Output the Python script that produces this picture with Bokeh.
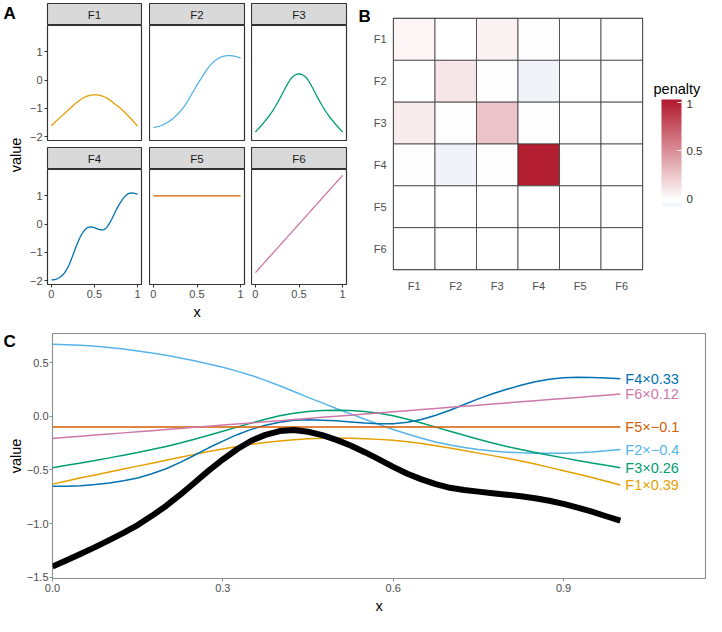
import math
from bokeh.plotting import figure
from bokeh.layouts import row, column
from bokeh.models import (ColumnDataSource, Label, FixedTicker, Range1d, ColorBar,
                          LinearColorMapper, FactorRange, CustomJSTickFormatter)
from bokeh.embed import file_html
from bokeh.resources import INLINE
from bokeh.core.properties import value

FONT = "Liberation Sans"

# ---------------- data ----------------
x = [0.0, 0.025, 0.05, 0.075, 0.1, 0.125, 0.15, 0.175, 0.2, 0.225, 0.25, 0.275, 0.3, 0.325,
     0.35, 0.375, 0.4, 0.425, 0.45, 0.475, 0.5, 0.525, 0.55, 0.575, 0.6, 0.625, 0.65, 0.675,
     0.7, 0.725, 0.75, 0.775, 0.8, 0.825, 0.85, 0.875, 0.9, 0.925, 0.95, 0.975, 1.0]
F1 = [-1.62, -1.545, -1.47, -1.40, -1.33, -1.26, -1.19, -1.12, -1.05, -0.98, -0.91, -0.843,
      -0.78, -0.722, -0.67, -0.627, -0.59, -0.562, -0.54, -0.528, -0.525, -0.527, -0.535,
      -0.552, -0.575, -0.61, -0.65, -0.703, -0.76, -0.82, -0.88, -0.94, -1.00, -1.068, -1.14,
      -1.22, -1.30, -1.38, -1.46, -1.55, -1.64]
F2 = [-1.675, -1.665, -1.65, -1.627, -1.60, -1.562, -1.52, -1.472, -1.42, -1.357, -1.29,
      -1.217, -1.14, -1.05, -0.95, -0.835, -0.71, -0.577, -0.44, -0.31, -0.18, -0.055, 0.07,
      0.19, 0.31, 0.415, 0.51, 0.597, 0.67, 0.728, 0.775, 0.81, 0.835, 0.852, 0.862, 0.863,
      0.86, 0.847, 0.83, 0.805, 0.775]
F3 = [-1.84, -1.757, -1.67, -1.582, -1.49, -1.397, -1.30, -1.193, -1.08, -0.955, -0.82,
      -0.683, -0.54, -0.39, -0.24, -0.105, 0.02, 0.11, 0.17, 0.205, 0.215, 0.205, 0.17, 0.11,
      0.02, -0.105, -0.24, -0.39, -0.54, -0.683, -0.82, -0.955, -1.08, -1.193, -1.30, -1.397,
      -1.49, -1.582, -1.67, -1.757, -1.84]
F4 = [-1.976, -1.972, -1.958, -1.928, -1.885, -1.82, -1.739, -1.62, -1.48, -1.30, -1.10,
      -0.89, -0.70, -0.52, -0.37, -0.255, -0.17, -0.115, -0.10, -0.11, -0.13, -0.16, -0.19,
      -0.21, -0.21, -0.17, -0.09, 0.03, 0.17, 0.33, 0.49, 0.635, 0.76, 0.875, 0.97, 1.04,
      1.085, 1.10, 1.095, 1.08, 1.06]
F5 = [1.0, 1.0, 1.0, 1.0, 1.0, 1.0, 1.0, 1.0, 1.0, 1.0, 1.0, 1.0, 1.0, 1.0, 1.0, 1.0, 1.0,
      1.0, 1.0, 1.0, 1.0, 1.0, 1.0, 1.0, 1.0, 1.0, 1.0, 1.0, 1.0, 1.0, 1.0, 1.0, 1.0, 1.0,
      1.0, 1.0, 1.0, 1.0, 1.0, 1.0, 1.0]
F6 = [-1.72, -1.634, -1.548, -1.462, -1.376, -1.29, -1.204, -1.118, -1.032, -0.946, -0.86,
      -0.774, -0.688, -0.602, -0.516, -0.43, -0.344, -0.258, -0.172, -0.086, 0.0, 0.086,
      0.172, 0.258, 0.344, 0.43, 0.516, 0.602, 0.688, 0.774, 0.86, 0.946, 1.032, 1.118,
      1.204, 1.29, 1.376, 1.462, 1.548, 1.634, 1.72]

names = ["F1", "F2", "F3", "F4", "F5", "F6"]
series = [F1, F2, F3, F4, F5, F6]
colors = ["#E69F00", "#56B4E9", "#009E73", "#0072B2", "#D55E00", "#CC79A7"]
coefs = [0.39, -0.4, 0.26, 0.33, -0.1, 0.12]
coef_labels = ["0.39", "\u22120.4", "0.26", "0.33", "\u22120.1", "0.12"]

pen_rows = ["F1", "F2", "F3", "F4", "F5", "F6"]
pen_cols = ["F1", "F2", "F3", "F4", "F5", "F6"]
penalty = [
    [0.04, 0.00, 0.06, 0.01, 0.00, 0.00],
    [0.00, 0.11, 0.01, -0.07, 0.00, 0.00],
    [0.09, 0.01, 0.27, 0.01, 0.00, 0.00],
    [0.01, -0.07, 0.01, 1.00, 0.00, 0.00],
    [0.00, 0.00, 0.00, 0.00, 0.00, 0.00],
    [0.00, 0.00, 0.00, 0.00, 0.00, 0.00],
]
pen_low, pen_high = -0.073, 1.026

xtick_A = [0, 0.5, 1]
ytick_A = [-2, -1, 0, 1]
xtick_C = [0.0, 0.3, 0.6, 0.9]
ytick_C = [-1.5, -1.0, -0.5, 0.0, 0.5]
cb_ticks = [0, 0.5, 1]

# ---------------- helpers ----------------
fmt_plain = CustomJSTickFormatter(code="return String(tick).replace('-', '\u2212');")
fmt_one = CustomJSTickFormatter(code="return tick.toFixed(1).replace('-', '\u2212');")


def style_axes(p, tick_color="#333333"):
    for ax in p.axis:
        ax.axis_line_color = None
        ax.major_tick_line_color = tick_color
        ax.major_tick_out = 3
        ax.major_tick_in = 0
        ax.minor_tick_line_color = None
        ax.major_label_text_font = FONT
        ax.major_label_text_font_size = "11px"
        ax.major_label_text_color = "#4D4D4D"
        ax.major_label_standoff = 2
        ax.axis_label_text_font = FONT
        ax.axis_label_text_font_size = "14.5px"
        ax.axis_label_text_font_style = "normal"
        ax.axis_label_text_color = "black"
        ax.axis_label_standoff = 3
    p.grid.visible = False


def gutter(w, h):
    g = figure(width=w, height=h, x_range=Range1d(0, w), y_range=Range1d(0, h),
               x_axis_location=None, y_axis_location=None, toolbar_location=None,
               output_backend="svg", min_border=0, outline_line_color=None)
    g.grid.visible = False
    return g


def tag(g, text, gx, gy):
    g.add_layout(Label(x=gx, y=gy, text=text, text_baseline="top", text_align="left",
                       text_font=FONT, text_font_size="17px", text_font_style="bold",
                       text_color="black"))


def vlabel(g, text, gx, gy):
    g.add_layout(Label(x=gx, y=gy, text=text, angle=math.pi / 2, text_baseline="middle",
                       text_align="center", text_font=FONT, text_font_size="14.5px",
                       text_color="black"))


# ---------------- panel A ----------------
GUT_W = 26
FRAME_W = 95
TOP_PAD = 3
STRIP_H = 22
FRAME_H = 115
GAP = 7
XAX_H = 42
col_specs = [(20, 8), (0, 7), (0, 6)]
A_H = TOP_PAD + STRIP_H + FRAME_H + GAP + STRIP_H + FRAME_H + XAX_H


def strip(name, lb, rb, pad):
    s = figure(width=lb + FRAME_W + rb, height=STRIP_H + pad, x_range=Range1d(0, 1),
               y_range=Range1d(0, 1), x_axis_location=None, y_axis_location=None,
               toolbar_location=None, output_backend="svg", min_border=0,
               min_border_left=lb, min_border_right=rb, min_border_top=pad, min_border_bottom=0,
               background_fill_color="#D9D9D9", border_fill_color="white",
               outline_line_color="#333333", outline_line_width=1.1)
    s.grid.visible = False
    s.add_layout(Label(x=0.5, y=0.5, text=name, text_align="center", text_baseline="middle",
                       text_font=FONT, text_font_size="11.5px", text_color="#1A1A1A"))
    return s


def facet(i, lb, rb, bottom_row, show_y, xlabel):
    h = FRAME_H + (XAX_H if bottom_row else GAP)
    p = figure(width=lb + FRAME_W + rb, height=h,
               x_range=Range1d(-0.045, 1.045), y_range=Range1d(-2.14, 1.93),
               x_axis_location="below" if bottom_row else None,
               y_axis_location="left" if show_y else None,
               toolbar_location=None, output_backend="svg",
               min_border=0, min_border_left=lb, min_border_right=rb, min_border_top=0,
               min_border_bottom=XAX_H if bottom_row else GAP,
               outline_line_color="#333333", outline_line_width=1.2)
    p.line(x, series[i], color=colors[i], line_width=1.3)
    if bottom_row:
        p.xaxis.ticker = FixedTicker(ticks=xtick_A, minor_ticks=[])
        p.xaxis.formatter = fmt_plain
        if xlabel:
            p.xaxis.axis_label = xlabel
    if show_y:
        p.yaxis.ticker = FixedTicker(ticks=ytick_A, minor_ticks=[])
        p.yaxis.formatter = fmt_plain
    style_axes(p)
    return p


gA = gutter(GUT_W, A_H)
tag(gA, "A", 3, A_H - 3)
frames_mid = TOP_PAD + STRIP_H + (FRAME_H + GAP + STRIP_H + FRAME_H) / 2.0
vlabel(gA, "value", 15.5, A_H - frames_mid)

a_cols = []
for j in range(3):
    lb, rb = col_specs[j]
    a_cols.append(column(
        strip(names[j], lb, rb, TOP_PAD),
        facet(j, lb, rb, False, j == 0, None),
        strip(names[j + 3], lb, rb, 0),
        facet(j + 3, lb, rb, True, j == 0, "x" if j == 1 else None),
        spacing=0))

A_W = GUT_W + sum(l + FRAME_W + r for l, r in col_specs)

# ---------------- panel B ----------------
def hex2rgb(h):
    h = h.lstrip("#")
    return tuple(int(h[k:k + 2], 16) for k in (0, 2, 4))


def mix(c1, c2, t):
    a, b = hex2rgb(c1), hex2rgb(c2)
    return "#%02x%02x%02x" % tuple(int(round(a[k] + (b[k] - a[k]) * t)) for k in range(3))


NPAL = 256
palette = []
for k in range(NPAL):
    v = pen_low + (pen_high - pen_low) * (k + 0.5) / NPAL
    if v >= 0:
        palette.append(mix("#FFFFFF", "#B2182B", min(v / pen_high, 1)))
    else:
        palette.append(mix("#FFFFFF", "#2166AC", min(-v / pen_high, 1)))
mapper = LinearColorMapper(palette=palette, low=pen_low, high=pen_high)

cells = {"c": [], "r": [], "v": []}
for ri, rname in enumerate(pen_rows):
    for ci, cname in enumerate(pen_cols):
        cells["c"].append(cname)
        cells["r"].append(rname)
        cells["v"].append(penalty[ri][ci])

GB_W = 18
B_LEFT = 19
B_FRAME_W = 253
B_RIGHT = 6
B_TOP = 18
B_FRAME_H = 251
LEG_W = 706 - A_W - GB_W - (B_LEFT + B_FRAME_W + B_RIGHT)

gB = gutter(GB_W, A_H)
tag(gB, "B", 6, A_H - 6)

pB = figure(width=B_LEFT + B_FRAME_W + B_RIGHT, height=A_H, x_range=FactorRange(*pen_cols),
            y_range=FactorRange(*list(reversed(pen_rows))),
            toolbar_location=None, output_backend="svg",
            min_border=0, min_border_left=B_LEFT, min_border_right=B_RIGHT,
            min_border_top=B_TOP, min_border_bottom=A_H - B_TOP - B_FRAME_H,
            outline_line_color="#333333", outline_line_width=1.3)
pB.rect(x="c", y="r", width=1, height=1, source=ColumnDataSource(cells),
        fill_color={"field": "v", "transform": mapper}, line_color="#3A3A3A", line_width=0.8)
style_axes(pB)
for ax in pB.axis:
    ax.major_tick_line_color = None
    ax.major_label_text_font_size = "11px"
pB.yaxis.major_label_standoff = 4
pB.xaxis.major_label_standoff = 7
pB.x_range.range_padding = 0
pB.y_range.range_padding = 0

# legend: title block + colour bar block
LEG_TITLE_H = 99
legT = gutter(LEG_W, LEG_TITLE_H)
legT.add_layout(Label(x=5, y=LEG_TITLE_H - 80, text="penalty", text_baseline="top",
                      text_align="left", text_font=FONT, text_font_size="14.5px",
                      text_color="black"))
legB = figure(width=LEG_W, height=A_H - LEG_TITLE_H, x_range=Range1d(0, 1), y_range=Range1d(0, 1),
              x_axis_location=None, y_axis_location=None, toolbar_location=None,
              output_backend="svg", min_border=0, min_border_left=13, min_border_top=0,
              outline_line_color=None)
legB.grid.visible = False
cb = ColorBar(color_mapper=mapper, ticker=FixedTicker(ticks=cb_ticks, minor_ticks=[]),
              formatter=CustomJSTickFormatter(code="return String(tick);"),
              width=20, height=107,
              major_label_text_font=FONT, major_label_text_font_size="11.5px",
              major_label_text_color="#333333", major_tick_line_color="white",
              major_tick_in=4, major_tick_out=0, minor_tick_line_color=None,
              bar_line_color=None, border_line_color=None, background_fill_color=None,
              padding=0, margin=0, location="top_left", label_standoff=5)
legB.add_layout(cb)

# ---------------- panel C ----------------
C_H = 616 - A_H
GC_W = 23
C_LEFT = 24
C_TOP = 7
C_BOTTOM = 38
gC = gutter(GC_W, C_H)
tag(gC, "C", 3, C_H - 5)
vlabel(gC, "value", 15, C_H - (C_TOP + (C_H - C_TOP - C_BOTTOM) / 2.0))

pC = figure(width=706 - GC_W, height=C_H, x_range=Range1d(0, 1.15), y_range=Range1d(-1.51, 0.77),
            toolbar_location=None, output_backend="svg",
            min_border=0, min_border_left=C_LEFT, min_border_right=1,
            min_border_top=C_TOP, min_border_bottom=C_BOTTOM,
            outline_line_color="#8C8C8C", outline_line_width=1.1)
total = [0.0] * len(x)
for i in range(6):
    scaled = [coefs[i] * v for v in series[i]]
    total = [t + s for t, s in zip(total, scaled)]
    pC.line(x, scaled, color=colors[i], line_width=1.5)
pC.line(x, total, color="black", line_width=6, line_join="round")
lab = ColumnDataSource(dict(
    x=[x[-1]] * 6,
    y=[coefs[i] * series[i][-1] for i in range(6)],
    t=[names[i] + "\u00d7" + coef_labels[i] for i in range(6)],
    c=colors))
pC.text(x="x", y="y", text="t", text_color="c", source=lab, x_offset=5,
        text_baseline="middle", text_align="left", text_font=value(FONT), text_font_size="14.5px")
pC.xaxis.ticker = FixedTicker(ticks=xtick_C, minor_ticks=[])
pC.yaxis.ticker = FixedTicker(ticks=ytick_C, minor_ticks=[])
pC.xaxis.formatter = fmt_one
pC.yaxis.formatter = fmt_one
pC.xaxis.axis_label = "x"
style_axes(pC, tick_color="#8C8C8C")
pC.yaxis.major_label_standoff = 1

legend_col = column(column(legT), column(legB), spacing=0)
top_row = row(column(gA), *a_cols, column(gB), column(pB), legend_col, spacing=0)
bottom_row = row(column(gC), column(pC), spacing=0)
layout = column(top_row, bottom_row, spacing=0)
open("out.html", "w").write(file_html(layout, INLINE))
